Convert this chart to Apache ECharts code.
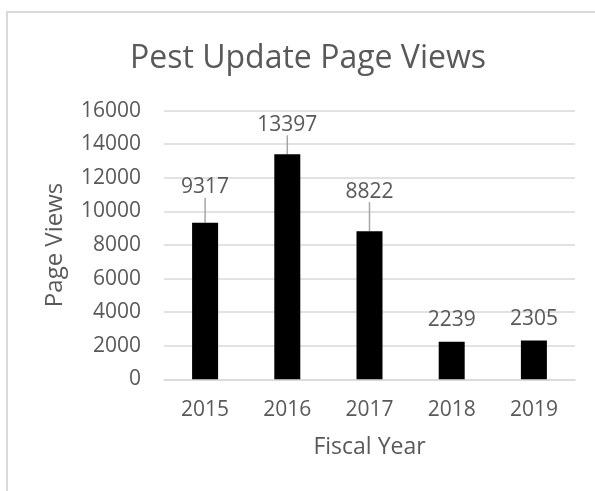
<!DOCTYPE html>
<html>
<head>
<meta charset="utf-8">
<script src="https://cdn.jsdelivr.net/npm/echarts@6/dist/echarts.min.js"></script>
<style>
  html, body { margin: 0; padding: 0; background: #fff; }
  #chart { width: 595px; height: 491px; }
</style>
</head>
<body>
<div id="chart"></div>
<script>
const categories = ['2015', '2016', '2017', '2018', '2019'];
const pageViews = [9317, 13397, 8822, 2239, 2305];
const yTicks = [0, 2000, 4000, 6000, 8000, 10000, 12000, 14000, 16000];
const titleText = 'Pest Update Page Views';
const xName = 'Fiscal Year';
const yName = 'Page Views';

// extra upward shift of each data label (leader line shown when shifted)
const labelShift = [-14, -8, -18, 0, 0];

const font = '"Open Sans", "Noto Sans", sans-serif';
const textColor = '#595959';
const gridColor = '#d9d9d9';

const chart = echarts.init(document.getElementById('chart'), null, { renderer: 'canvas' });

chart.setOption({
  backgroundColor: '#ffffff',
  animation: false,
  graphic: [{
    type: 'rect',
    shape: { x: 7, y: 12, width: 620, height: 520 },
    style: { fill: 'none', stroke: gridColor, lineWidth: 2 },
    silent: true
  }],
  title: {
    text: titleText,
    left: 303,
    top: 38,
    textAlign: 'center',
    textStyle: { fontFamily: font, fontSize: 32, fontWeight: 'normal', color: textColor }
  },
  grid: { left: 164, right: 20, top: 110.6, bottom: 111.7, containLabel: false },
  xAxis: {
    type: 'category',
    data: categories,
    name: xName,
    nameLocation: 'middle',
    nameGap: 57,
    nameTextStyle: { fontFamily: font, fontSize: 23, color: textColor },
    axisLine: { show: true, lineStyle: { color: gridColor, width: 1.5 } },
    axisTick: { show: false },
    axisLabel: { fontFamily: font, fontSize: 21, color: textColor, margin: 20 }
  },
  yAxis: {
    type: 'value',
    min: yTicks[0],
    max: yTicks[yTicks.length - 1],
    interval: yTicks[1] - yTicks[0],
    name: yName,
    nameLocation: 'middle',
    nameGap: 97,
    nameTextStyle: { fontFamily: font, fontSize: 24, color: textColor },
    axisLine: { show: false },
    axisTick: { show: false },
    axisLabel: {
      fontFamily: font, fontSize: 21, color: textColor, margin: 23,
      formatter: function (v) { return String(v); }
    },
    splitLine: { show: true, lineStyle: { color: gridColor, width: 1.5 } }
  },
  series: [{
    type: 'bar',
    data: pageViews.map((v, i) => ({
      value: v,
      labelLine: { show: labelShift[i] !== 0 }
    })),
    barWidth: 26,
    itemStyle: { color: '#000000' },
    label: {
      show: true,
      position: 'top',
      distance: 11,
      fontFamily: font,
      fontSize: 21,
      color: textColor
    },
    labelLayout: function (params) {
      return { dy: labelShift[params.dataIndex] };
    },
    labelLine: {
      show: true,
      lineStyle: { color: '#a6a6a6', width: 1.5 }
    }
  }]
});
</script>
</body>
</html>
